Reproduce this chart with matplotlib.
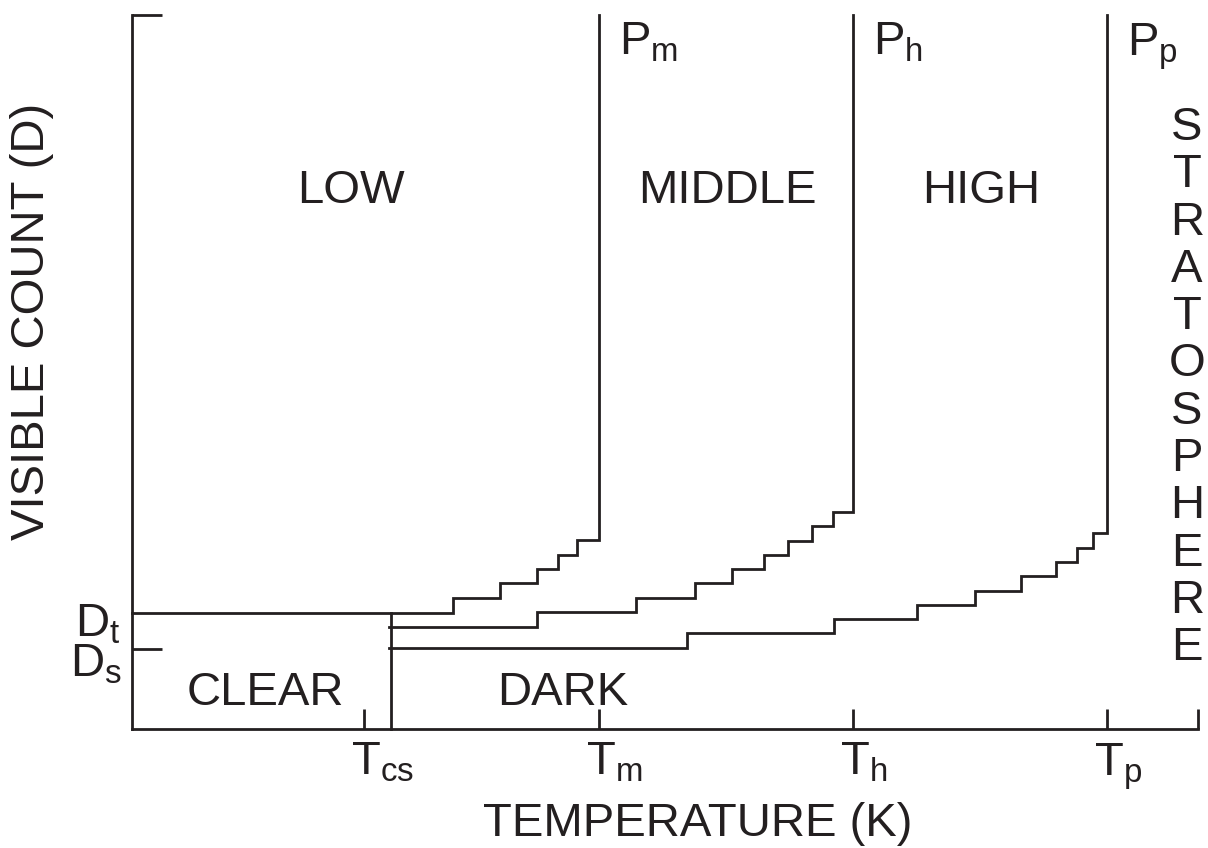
import matplotlib
matplotlib.use("Agg")
import matplotlib.pyplot as plt

plt.rcParams['font.family'] = ['Liberation Sans', 'DejaVu Sans']
plt.rcParams['mathtext.fontset'] = 'custom'
plt.rcParams['mathtext.rm'] = 'Liberation Sans'
plt.rcParams['mathtext.it'] = 'Liberation Sans:italic'

# axis extent (arbitrary schematic units)
x_max = 1066
y_max = 714

# temperature thresholds
t_cs = 232
t_line = 259
t_m = 467
t_h = 721
t_p = 975

# visible thresholds
d_t = 116
d_s = 80

# staircase boundaries: x where each step ends, y of each step
low_x = [0, 321, 368, 405, 426, 445, 467]
low_y = [116, 131, 146, 160, 174, 189, 714]

mid_x = [257, 405, 504, 563, 600, 632, 656, 680, 701, 721]
mid_y = [102, 117, 131, 146, 160, 174, 188, 203, 217, 714]

high_x = [257, 555, 702, 785, 843, 889, 924, 945, 961, 975]
high_y = [81, 96, 110, 124, 138, 153, 167, 181, 196, 714]

regions = ["LOW", "MIDDLE", "HIGH", "CLEAR", "DARK"]
region_x = [219, 595, 849, 133, 431]
region_y = [526, 526, 526, 24, 24]

t_labels = [r"$\mathrm{T_{cs}}$", r"$\mathrm{T_m}$", r"$\mathrm{T_h}$", r"$\mathrm{T_p}$"]
p_labels = [r"$\mathrm{P_m}$", r"$\mathrm{P_h}$", r"$\mathrm{P_p}$"]

fs = 34
lw = 2.0

fig = plt.figure(figsize=(12.08, 8.48), dpi=100)
ax = fig.add_axes([132 / 1208, 119 / 848, 1066 / 1208, 714 / 848])
ax.set_xlim(0, x_max)
ax.set_ylim(0, y_max)

for s in ["top", "right"]:
    ax.spines[s].set_visible(False)
for s in ["left", "bottom"]:
    ax.spines[s].set_linewidth(lw)
    ax.spines[s].set_color("#231f20")

ax.set_xticks([t_cs, t_m, t_h, t_p, x_max])
ax.set_yticks([d_s, y_max])
ax.tick_params(axis="x", direction="in", length=14.5, width=lw, color="#231f20",
               labelbottom=False)
ax.tick_params(axis="y", direction="in", length=21.6, width=lw, color="#231f20",
               labelleft=False)

kw = dict(color="#231f20", lw=lw, clip_on=False, solid_joinstyle="miter")
ax.step(low_x, low_y, where="post", **kw)
ax.step(mid_x, mid_y, where="post", **kw)
ax.step(high_x, high_y, where="post", **kw)
ax.plot([t_line, t_line], [0, d_t], **kw)

for name, x, y in zip(regions, region_x, region_y):
    ax.text(x, y, name, fontsize=fs, ha="center", va="baseline", color="#231f20")

for lab, x in zip(t_labels, [t_cs, t_m, t_h, t_p]):
    ax.text(x - 13, -46, lab, fontsize=fs, ha="left", va="baseline",
            color="#231f20", clip_on=False)

for lab, x in zip(p_labels, [t_m, t_h, t_p]):
    ax.text(x + 20, 674, lab, fontsize=fs, ha="left", va="baseline",
            color="#231f20", clip_on=False)

ax.text(-12, 92, r"$\mathrm{D_t}$", fontsize=fs, ha="right", va="baseline",
        color="#231f20", clip_on=False)
ax.text(-10, 53, r"$\mathrm{D_s}$", fontsize=fs, ha="right", va="baseline",
        color="#231f20", clip_on=False)

for i, ch in enumerate("STRATOSPHERE"):
    ax.text(1055, 589 - 47.3 * i, ch, fontsize=fs, ha="center", va="baseline",
            color="#231f20", clip_on=False)

ax.text(566, -107, "TEMPERATURE (K)", fontsize=fs, ha="center", va="baseline",
        color="#231f20", clip_on=False)
ax.text(-100, 408, "VISIBLE COUNT (D)", fontsize=fs, rotation=90, ha="center",
        va="center", color="#231f20", clip_on=False)

fig.savefig("out.png", dpi=100)
